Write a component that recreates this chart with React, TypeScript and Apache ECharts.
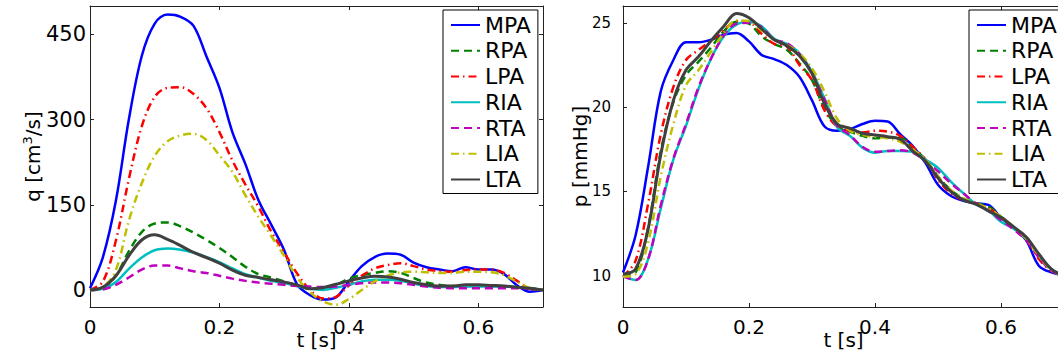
import React, { useEffect, useRef } from "react";
import * as echarts from "echarts";

// time samples [s]
const T = [0, 0.02, 0.04, 0.06, 0.08, 0.1, 0.12, 0.14, 0.16, 0.18, 0.2, 0.22, 0.24, 0.26, 0.28, 0.3, 0.32, 0.34, 0.36, 0.38, 0.4, 0.42, 0.44, 0.46, 0.48, 0.5, 0.52, 0.54, 0.56, 0.58, 0.6, 0.62, 0.64, 0.66, 0.68, 0.7];

const SERIES_NAMES = ["MPA", "RPA", "LPA", "RIA", "RTA", "LIA", "LTA"];

// flow q [cm^3/s]
const Q_MPA = [3, 58, 157, 300, 412, 469, 485, 481, 465, 411, 356, 278, 222, 159, 115, 70, 10, -9, -17, -13, 15, 42, 58, 64, 62, 48, 40, 36, 33, 40, 36, 36, 28, 8, -3, 0];
const Q_RPA = [0, 3, 25, 68, 102, 117, 119, 112, 101, 88, 74, 58, 41, 28, 22, 15, 8, 2, 3, 9, 20, 26, 30, 33, 30, 21, 13, 9, 7, 7, 8, 7, 6, 5, 3, 0];
const Q_LPA = [0, 15, 87, 195, 288, 340, 356, 357, 345, 320, 278, 228, 186, 147, 103, 66, 29, 0, -15, -12, 8, 25, 38, 44, 47, 42, 36, 33, 32, 35, 36, 36, 30, 16, 2, 0];
const Q_RIA = [0, 2, 14, 37, 57, 70, 73, 71, 66, 58, 49, 38, 28, 22, 16, 12, 7, 2, 0, 4, 9, 15, 18, 18, 16, 11, 7, 5, 5, 6, 6, 6, 6, 5, 3, 0];
const Q_RTA = [0, 1, 9, 22, 36, 43, 43, 38, 33, 30, 25, 20, 16, 13, 11, 9, 7, 6, 5, 6, 9, 12, 13, 13, 12, 9, 6, 4, 3, 3, 3, 3, 3, 3, 2, 0];
const Q_LIA = [0, 5, 35, 122, 188, 236, 262, 272, 275, 264, 237, 208, 167, 129, 95, 60, 22, -4, -20, -26, -16, 0, 15, 25, 31, 32, 31, 30, 30, 32, 32, 31, 26, 14, 3, 0];
const Q_LTA = [0, 5, 25, 60, 88, 97, 89, 78, 66, 57, 47, 35, 26, 22, 18, 14, 9, 2, 4, 10, 16, 21, 24, 23, 19, 13, 9, 7, 7, 9, 9, 8, 7, 5, 3, 0];

// pressure p [mmHg]
const P_MPA = [10.2, 12.4, 16.5, 20.95, 22.8, 23.85, 23.85, 24.0, 24.3, 24.4, 23.9, 23.1, 22.85, 22.5, 21.8, 20.4, 18.85, 18.6, 18.7, 19.0, 19.2, 19.15, 18.4, 17.7, 16.7, 15.4, 14.75, 14.45, 14.3, 14.2, 13.45, 12.85, 12.1, 10.6, 10.2, 10.05];
const P_RPA = [10.0, 10.2, 12.9, 17.4, 20.3, 21.9, 22.7, 23.55, 24.5, 25.06, 24.95, 24.2, 23.75, 23.4, 22.6, 21.6, 19.9, 18.9, 18.55, 18.3, 18.15, 18.2, 18.2, 17.6, 16.9, 15.9, 15.1, 14.6, 14.3, 14.1, 13.5, 12.9, 12.2, 11.2, 10.3, 9.95];
const P_LPA = [9.95, 10.9, 14.3, 18.4, 21.2, 22.8, 23.4, 23.95, 24.55, 25.1, 25.05, 24.35, 23.75, 23.6, 22.5, 21.6, 19.8, 18.85, 18.6, 18.5, 18.6, 18.55, 18.3, 17.65, 16.9, 15.7, 14.9, 14.5, 14.3, 14.0, 13.5, 12.9, 12.2, 11.0, 10.3, 10.0];
const P_RIA = [10.0, 9.75, 11.0, 14.0, 16.9, 18.9, 21.1, 22.9, 24.2, 24.9, 25.05, 24.8, 24.05, 23.75, 23.2, 22.1, 20.5, 18.8, 18.3, 17.6, 17.3, 17.4, 17.4, 17.35, 16.9, 16.4, 15.6, 14.9, 14.25, 13.9, 13.2, 12.8, 12.2, 11.2, 10.4, 10.0];
const P_RTA = [9.95, 9.75, 11.0, 14.2, 16.95, 19.0, 21.2, 22.9, 24.25, 24.95, 25.0, 24.75, 24.0, 23.8, 23.15, 22.0, 20.45, 18.9, 18.35, 17.65, 17.35, 17.4, 17.45, 17.3, 16.8, 16.2, 15.5, 14.9, 14.3, 13.85, 13.3, 12.75, 12.1, 11.1, 10.3, 10.0];
const P_LIA = [9.95, 10.1, 12.0, 15.9, 19.0, 21.3, 22.2, 23.3, 24.4, 25.15, 25.1, 24.55, 24.0, 23.7, 23.2, 22.3, 20.9, 19.3, 18.6, 18.35, 18.25, 18.15, 17.95, 17.5, 16.9, 15.9, 15.1, 14.6, 14.3, 14.0, 13.5, 12.9, 12.2, 11.2, 10.35, 10.0];
const P_LTA = [10.1, 10.4, 12.8, 17.2, 20.4, 22.2, 23.0, 23.95, 24.8, 25.55, 25.3, 24.65, 24.0, 23.65, 23.05, 22.0, 20.2, 19.0, 18.75, 18.45, 18.35, 18.25, 18.1, 17.4, 16.8, 15.8, 15.0, 14.5, 14.25, 13.85, 13.45, 12.9, 12.3, 11.3, 10.4, 10.0];

const X_TICKS = [0, 0.2, 0.4, 0.6];
const Q_TICKS = [0, 150, 300, 450];
const P_TICKS = [10, 15, 20, 25];

const Q_DATA: Record<string, number[]> = { MPA: Q_MPA, RPA: Q_RPA, LPA: Q_LPA, RIA: Q_RIA, RTA: Q_RTA, LIA: Q_LIA, LTA: Q_LTA };
const P_DATA: Record<string, number[]> = { MPA: P_MPA, RPA: P_RPA, LPA: P_LPA, RIA: P_RIA, RTA: P_RTA, LIA: P_LIA, LTA: P_LTA };

const DASH = [8, 5];
const DASHDOT = [8, 4, 1.5, 4];
const STYLES: Record<string, { color: string; type: any; width: number }> = {
  MPA: { color: "#0000ff", type: "solid", width: 2.5 },
  RPA: { color: "#008000", type: DASH, width: 2.5 },
  LPA: { color: "#ff0000", type: DASHDOT, width: 2.5 },
  RIA: { color: "#00bfbf", type: "solid", width: 2.5 },
  RTA: { color: "#bf00bf", type: DASH, width: 2.5 },
  LIA: { color: "#bfbf00", type: DASHDOT, width: 2.5 },
  LTA: { color: "#404040", type: "solid", width: 3 },
};

const FONT = "DejaVu Sans";
const AX = "#222";

function xAxes(gridIndex: number) {
  const common = {
    type: "value",
    gridIndex,
    min: 0,
    max: 0.7,
    splitLine: { show: false },
    axisLine: { show: true, onZero: false, lineStyle: { color: AX, width: 1 } },
    axisTick: { show: true, inside: true, length: 4, customValues: X_TICKS, lineStyle: { color: AX } },
  };
  return [
    {
      ...common,
      position: "bottom",
      axisLabel: { customValues: X_TICKS, fontSize: 20, fontFamily: FONT, color: "#000", margin: 10 },
      name: "t [s]",
      nameLocation: "middle",
      nameGap: 23,
      nameMoveOverlap: false,
      nameTextStyle: { fontSize: 20, fontFamily: FONT, color: "#000" },
    },
    { ...common, position: "top", axisLabel: { show: false } },
  ];
}

function yAxes(
  gridIndex: number,
  min: number,
  max: number,
  ticks: number[],
  name: string,
  nameGap: number,
  labelMargin: number,
  labelSize: number
) {
  const common = {
    type: "value",
    gridIndex,
    min,
    max,
    splitLine: { show: false },
    axisLine: { show: true, onZero: false, lineStyle: { color: AX, width: 1 } },
    axisTick: { show: true, inside: true, length: 4, customValues: ticks, lineStyle: { color: AX } },
  };
  return [
    {
      ...common,
      position: "left",
      axisLabel: { customValues: ticks, fontSize: labelSize, fontFamily: FONT, color: "#000", margin: labelMargin },
      name,
      nameLocation: "middle",
      nameGap,
      nameRotate: 90,
      nameMoveOverlap: false,
      nameTextStyle: {
        fontSize: 20,
        fontFamily: FONT,
        color: "#000",
        lineHeight: 24,
        rich: { sup: { fontSize: 13, fontFamily: FONT, color: "#000", verticalAlign: "top", lineHeight: 13, padding: [0, 0, 6, 0] } },
      },
    },
    { ...common, position: "right", axisLabel: { show: false } },
  ];
}

export default function App() {
  const ref = useRef<HTMLDivElement>(null);
  useEffect(() => {
    if (!ref.current) return;
    const chart = echarts.init(ref.current, undefined, { renderer: "svg" });
    const series: any[] = [];
    const addSeries = (data: Record<string, number[]>, axisIndex: number) => {
      SERIES_NAMES.forEach((name) => {
        const st = STYLES[name];
        series.push({
          type: "line",
          name,
          xAxisIndex: axisIndex,
          yAxisIndex: axisIndex,
          data: T.map((t, j) => [t, data[name][j]]),
          smooth: 0.35,
          symbol: "none",
          lineStyle: { color: st.color, type: st.type, width: st.width },
          itemStyle: { color: st.color },
        });
      });
    };
    addSeries(Q_DATA, 0);
    addSeries(P_DATA, 2);
    const legendAt = (left: number) => ({
      data: SERIES_NAMES,
      orient: "vertical",
      left,
      top: 10,
      itemWidth: 29,
      itemHeight: 14,
      itemGap: 3.75,
      padding: [4, 7, 3, 7],
      borderColor: "#000",
      borderWidth: 1,
      backgroundColor: "#fff",
      selectedMode: false,
      itemStyle: { opacity: 0, borderWidth: 0 },
      textStyle: { fontSize: 22, fontFamily: FONT, color: "#000", lineHeight: 21 },
    });
    chart.setOption({
      animation: false,
      backgroundColor: "#fff",
      grid: [
        { left: 90, top: 6, width: 453, height: 301 },
        { left: 623, top: 6, width: 441, height: 301 },
      ],
      xAxis: [...xAxes(0), ...xAxes(1)],
      yAxis: [
        ...yAxes(0, -30, 500, Q_TICKS, "q [cm{sup|3}/s]", 45, 4, 21),
        ...yAxes(1, 8.15, 26, P_TICKS, "p [mmHg]", 31, 12, 15),
      ],
      legend: [legendAt(443), legendAt(969)],
      series,
    });
    return () => chart.dispose();
  }, []);
  return (
    <div style={{ position: "fixed", left: 0, top: 0, width: 1058, height: 358, overflow: "hidden", background: "#fff" }}>
      <div ref={ref} style={{ width: 1080, height: 358 }} />
    </div>
  );
}
